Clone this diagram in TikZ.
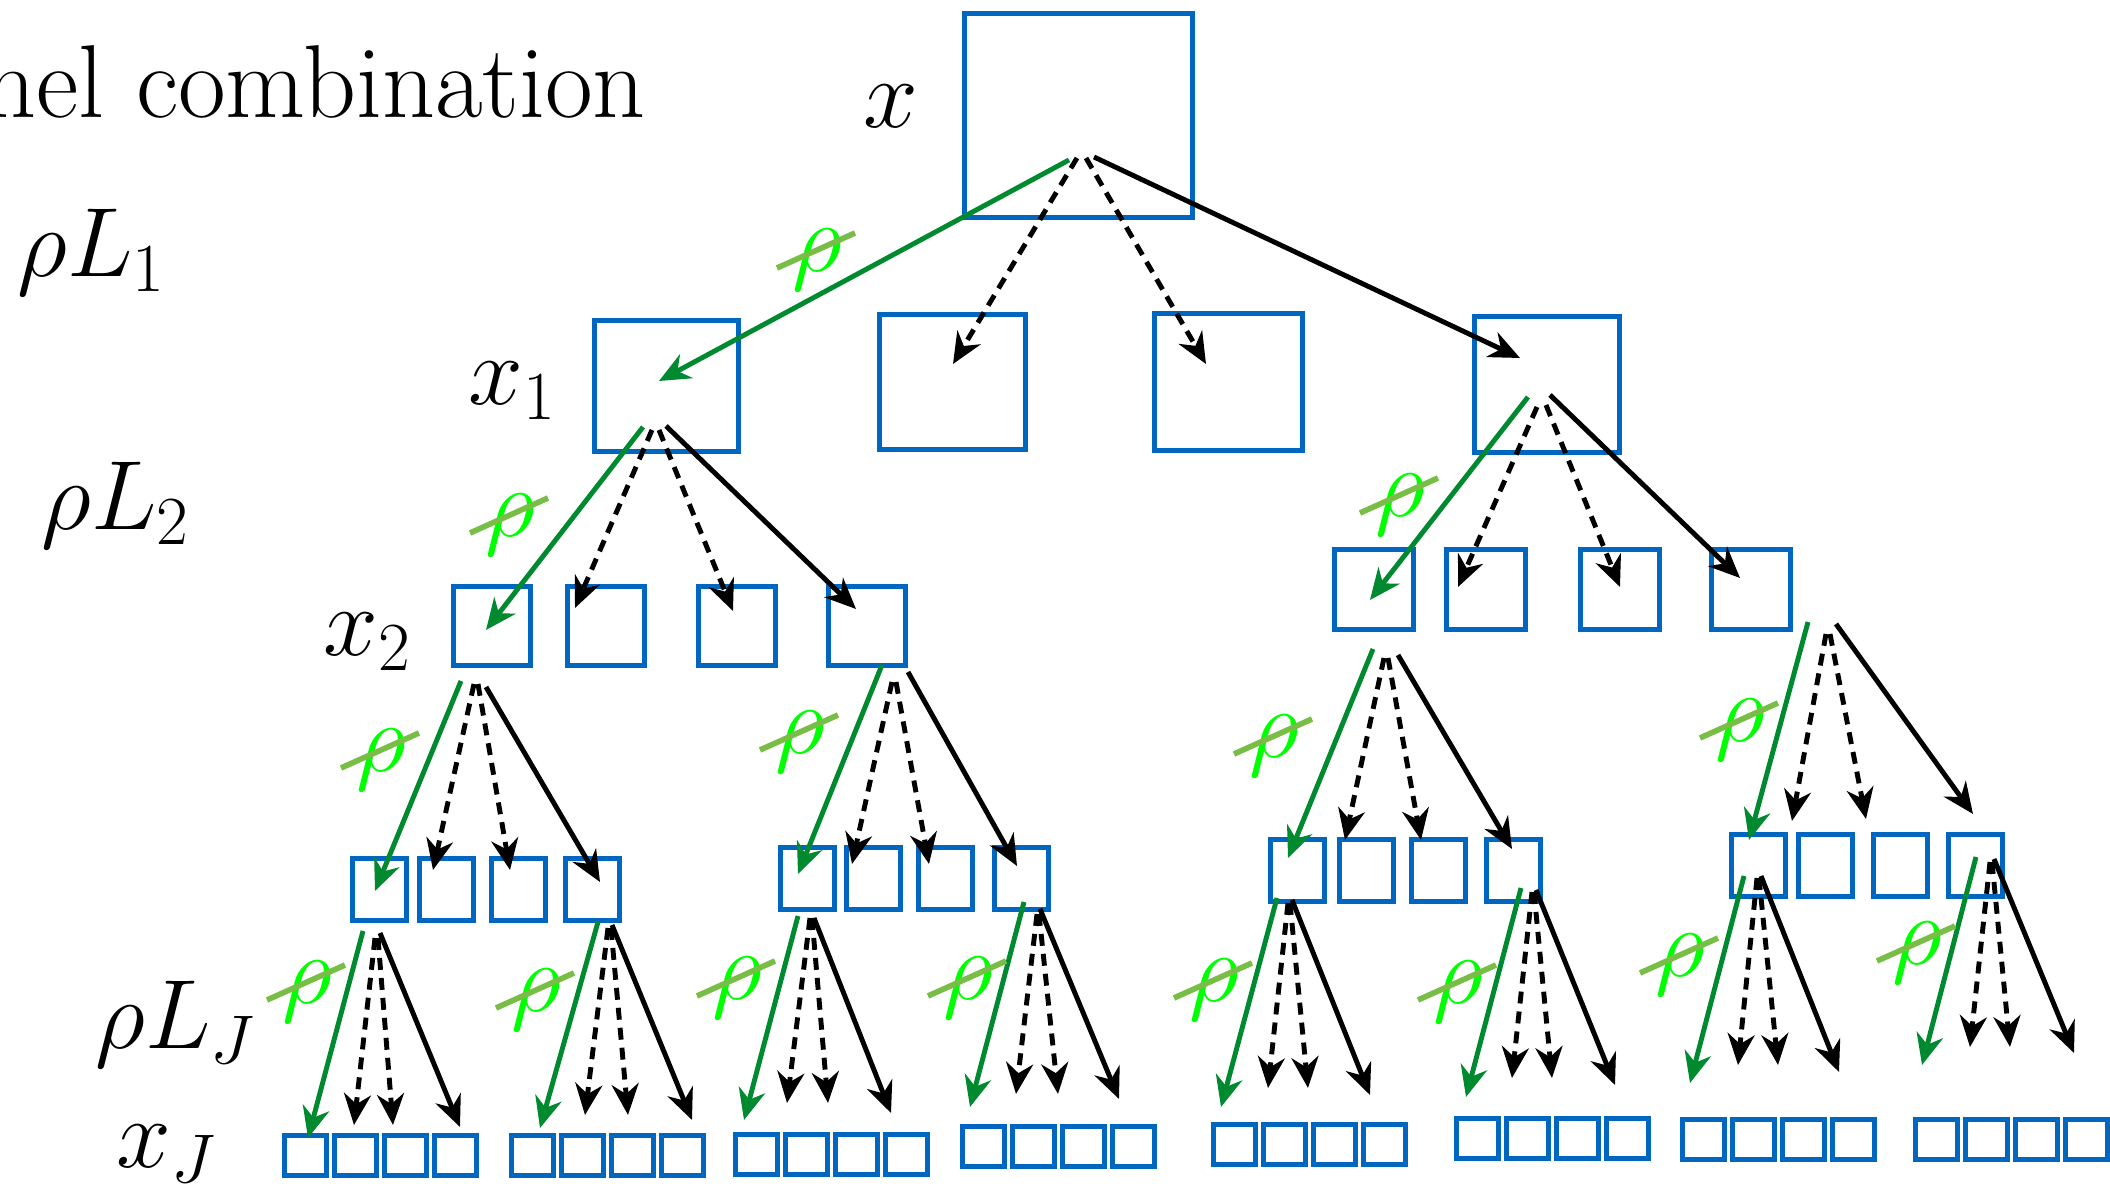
\RequirePackage{fix-cm}
\documentclass[tikz,border=0pt]{standalone}
\usetikzlibrary{arrows.meta}

\definecolor{boxblue}{RGB}{0,102,192}
\definecolor{pickgreen}{RGB}{0,138,48}
\definecolor{rhogreen}{RGB}{0,255,0}
\definecolor{strikegreen}{RGB}{120,190,70}

\tikzset{
	box/.style={draw=boxblue, line width=1.45pt, inner sep=0pt, anchor=north west},
	tip/.style={-{Stealth[length=3.1mm,width=2.7mm,inset=1mm]}, line width=1.4pt},
	pick/.style={tip, draw=pickgreen, fill=pickgreen},
	drop/.style={tip, draw=black, dash pattern=on 3.4pt off 2.3pt},
	keep/.style={tip, draw=black},
	lbl/.style={font=\fontsize{28}{34}\selectfont, inner sep=0pt, anchor=base west},
	rho/.style={font=\fontsize{28}{34}\selectfont, inner sep=0pt, text=rhogreen},
	strike/.style={draw=strikegreen, line width=1.6pt},
}

% #1 parent, #2-#5 starts (green, dashed, dashed, black), #6-#9 ends
\newcommand{\fanout}[9]{%
	\coordinate (#1-g0) at (#2); \coordinate (#1-g1) at (#6);
	\coordinate (#1-da0) at (#3); \coordinate (#1-da1) at (#7);
	\coordinate (#1-db0) at (#4); \coordinate (#1-db1) at (#8);
	\coordinate (#1-k0) at (#5); \coordinate (#1-k1) at (#9);
	\draw[pick] (#1-g0) -- (#1-g1);
	\draw[drop] (#1-da0) -- (#1-da1);
	\draw[drop] (#1-db0) -- (#1-db1);
	\draw[keep] (#1-k0) -- (#1-k1);
}
% struck-out rho beside a green arrow
\newcommand{\crossrho}[2]{%
	\node[rho] (#1-rho) at (#2) {$\rho$};
	\draw[strike] ([shift={(-40,8)}]#1-rho.center) -- ([shift={(38,-27)}]#1-rho.center);
}

\begin{document}
\begin{tikzpicture}[x=0.1mm, y=-0.1mm]
	\useasboundingbox (0,0) rectangle (2110,1192);
	\clip (0,0) rectangle (2110,1192);

	% labels on the left
	\node[lbl, font=\fontsize{29.5}{35}\selectfont] (title) at (-17,118) {nel combination};
	\node[lbl] (lx) at (863,128) {$x$};
	\node[lbl] (lrho1) at (17,277) {$\rho L_1$};
	\node[lbl] (lx1) at (468,405) {$x_1$};
	\node[lbl] (lrho2) at (41,530) {$\rho L_2$};
	\node[lbl] (lx2) at (323,656) {$x_2$};
	\node[lbl] (lrhoJ) at (95,1049) {$\rho L_J$};
	\node[lbl] (lxJ) at (116,1168) {$x_J$};

	% boxes
	\node[box, minimum width=228*0.1mm, minimum height=204*0.1mm] (root) at (962,11) {};
	\foreach \n/\x/\y/\w/\h in {n1/592/318/144/131, n2/877/312/146/135, n3/1152/311/148/137, n4/1472/314/145/136}
		\node[box, minimum width=\w*0.1mm, minimum height=\h*0.1mm] (\n) at (\x,\y) {};
	\foreach \n/\x in {m1/451, m2/565, m3/696, m4/826}
		\node[box, minimum width=77*0.1mm, minimum height=79*0.1mm] (\n) at (\x,584) {};
	\foreach \n/\x in {m5/1332, m6/1444, m7/1578, m8/1709}
		\node[box, minimum width=79*0.1mm, minimum height=80*0.1mm] (\n) at (\x,547) {};
	\foreach \g/\xa/\xb/\xc/\xd/\y in {a/350/417/489/563/856, b/778/844/916/992/845, c/1268/1337/1409/1484/837, d/1729/1796/1871/1946/832}
		\foreach \k/\x in {1/\xa, 2/\xb, 3/\xc, 4/\xd}
			\node[box, minimum width=54*0.1mm, minimum height=62*0.1mm] (\g\k) at (\x,\y) {};
	\foreach \g/\x/\y in {1/282/1133, 2/509/1133, 3/733/1132, 4/960/1124, 5/1211/1122, 6/1454/1116, 7/1680/1117, 8/1913/1117}
		\foreach \k in {0,...,3}
			\node[box, minimum width=42*0.1mm, minimum height=40*0.1mm] (leaf\g-\k) at ({\x+50*\k},\y) {};

	% fans: one green pick, two dashed, one black
	\fanout{root}{1069,160}{1077,158}{1086,158}{1094,157}{659,381}{953,364}{1206,364}{1520,358}
	\fanout{n1}{643,427}{652,430}{659,430}{666,426}{486,630}{575,608}{733,611}{856,609}
	\fanout{n4}{1528,397}{1537,407}{1546,405}{1550,395}{1370,600}{1458,587}{1620,587}{1740,578}
	\fanout{m1}{461,681}{474,684}{478,684}{486,687}{375,891}{433,870}{510,870}{600,882}
	\fanout{m4}{882,665}{892,682}{896,682}{908,672}{798,874}{852,864}{929,864}{1017,866}
	\fanout{m5}{1373,649}{1384,658}{1388,658}{1398,655}{1288,858}{1345,840}{1421,840}{1512,849}
	\fanout{m8}{1808,622}{1826,634}{1830,634}{1836,624}{1749,840}{1792,821}{1866,819}{1973,814}
	\fanout{a1}{363,931}{375,938}{378,938}{380,933}{308,1138}{354,1125}{393,1125}{460,1127}
	\fanout{a4}{598,922}{608,928}{611,928}{612,925}{540,1128}{585,1115}{628,1115}{692,1120}
	\fanout{b1}{798,916}{810,918}{812,918}{814,918}{744,1120}{787,1103}{828,1103}{891,1113}
	\fanout{b4}{1024,902}{1037,914}{1039,914}{1040,909}{970,1107}{1016,1094}{1058,1094}{1119,1099}
	\fanout{c1}{1277,898}{1288,903}{1290,903}{1292,900}{1221,1107}{1268,1088}{1308,1088}{1370,1095}
	\fanout{c4}{1521,888}{1532,892}{1534,892}{1536,890}{1466,1097}{1512,1078}{1552,1078}{1615,1085}
	\fanout{d1}{1744,876}{1757,878}{1759,878}{1761,876}{1690,1083}{1738,1065}{1778,1065}{1839,1072}
	\fanout{d4}{1976,857}{1990,862}{1992,862}{1994,859}{1922,1065}{1970,1047}{2010,1047}{2074,1053}

	% struck-out rho labels
	\foreach \p/\xy in {root/{817,260}, n1/{510,525}, n4/{1400,505}, m1/{381,760}, m4/{800,742},
		m5/{1274,746}, m8/{1740,730}, a1/{307,992}, a4/{536,1000}, b1/{737,988}, b4/{968,988},
		c1/{1214,990}, c4/{1458,992}, d1/{1680,965}, d4/{1917,953}}
		{\crossrho{\p}{\xy}}
\end{tikzpicture}
\end{document}
